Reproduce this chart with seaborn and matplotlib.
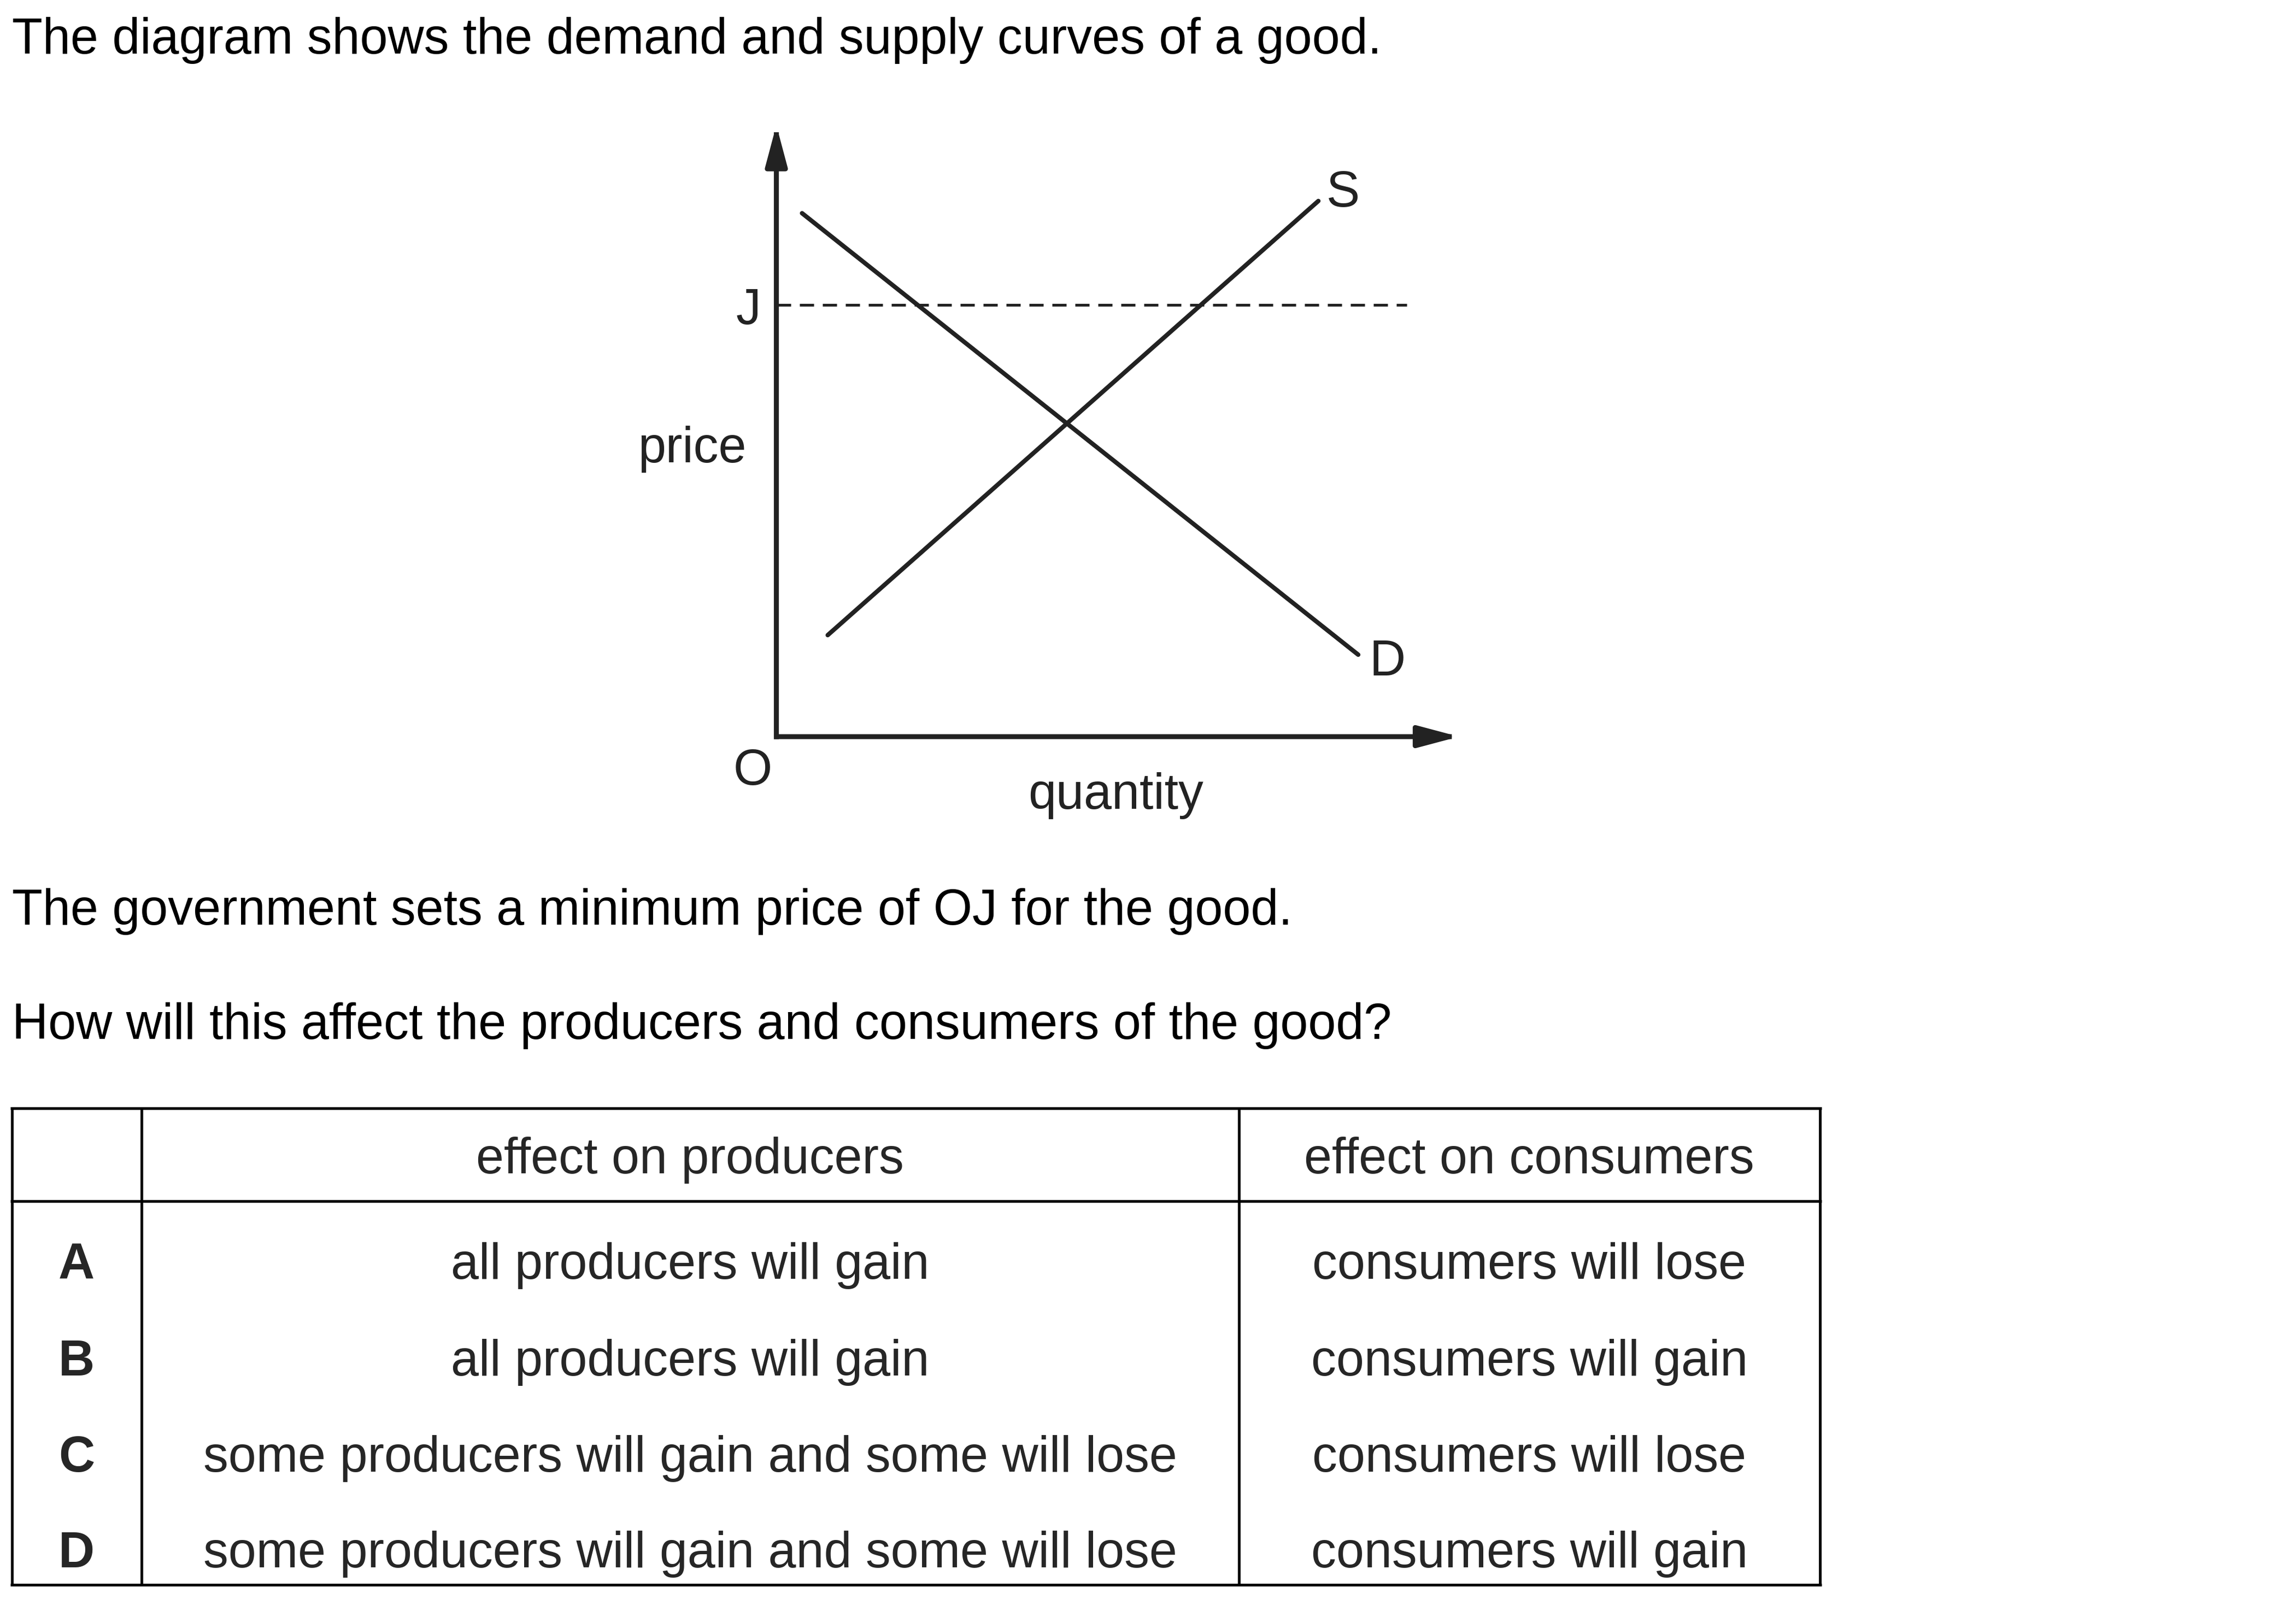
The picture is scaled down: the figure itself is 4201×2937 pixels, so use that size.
import pandas as pd
import numpy as np
import matplotlib
matplotlib.use("Agg")
import matplotlib.pyplot as plt
import seaborn as sns

# Curves in diagram units (0-100 on both axes, origin at O)
demand_q = [3.8, 86.1]
demand_p = [85.6, 13.4]
supply_q = [7.6, 80.2]
supply_p = [16.6, 87.6]
price_j = 70.6
j_line_end = 93.3

# Text
intro = "The diagram shows the demand and supply curves of a good."
line_min_price = "The government sets a minimum price of OJ for the good."
question = "How will this affect the producers and consumers of the good?"

header = ["", "effect on producers", "effect on consumers"]
options = ["A", "B", "C", "D"]
producers = [
    "all producers will gain",
    "all producers will gain",
    "some producers will gain and some will lose",
    "some producers will gain and some will lose",
]
consumers = [
    "consumers will lose",
    "consumers will gain",
    "consumers will lose",
    "consumers will gain",
]

sns.set_style("white")
plt.rcParams["font.family"] = ["Liberation Sans", "DejaVu Sans"]

W, H = 4201, 2937
fig = plt.figure(figsize=(W / 100, H / 100), dpi=100)
fig.patch.set_facecolor("white")

# full-figure axes in pixel coordinates for text and table
bg = fig.add_axes([0, 0, 1, 1])
bg.set_xlim(0, W)
bg.set_ylim(H, 0)
bg.axis("off")

FS = 66
ink = "#222222"

bg.text(22, 98, intro, fontsize=FS, ha="left", va="baseline", color="black")
bg.text(22, 1692, line_min_price, fontsize=FS, ha="left", va="baseline", color="black")
bg.text(22, 1901, question, fontsize=FS, ha="left", va="baseline", color="black")

# =========================
# table
# =========================
col_x = [21.5, 258.5, 2266.5, 3330]
row_top, row_head, row_bot = 2027.5, 2197.5, 2900
lw_tab = 3.6
for y in [row_top, row_head, row_bot]:
    bg.plot([col_x[0] - 2.5, col_x[-1] + 2.5], [y, y], color="black", lw=lw_tab,
            solid_capstyle="butt")
for x in col_x:
    bg.plot([x, x], [row_top, row_bot], color="black", lw=lw_tab,
            solid_capstyle="butt")

centers = [(col_x[i] + col_x[i + 1]) / 2 for i in range(3)]
for i, h in enumerate(header):
    bg.text(centers[i], 2147, h, fontsize=FS, ha="center", va="baseline")

row_base = [2340, 2517, 2693, 2868]
for opt, prod, cons, yb in zip(options, producers, consumers, row_base):
    bg.text(centers[0], yb, opt, fontsize=FS, ha="center", va="baseline",
            fontweight="bold")
    bg.text(centers[1], yb, prod, fontsize=FS, ha="center", va="baseline")
    bg.text(centers[2], yb, cons, fontsize=FS, ha="center", va="baseline")

# =========================
# diagram
# =========================
ox, oy = 1420.5, 1348
tip_x, tip_y = 2657, 229
ax = fig.add_axes([ox / W, 1 - oy / H, (tip_x - ox) / W, (oy - tip_y) / H])
ax.set_xlim(0, 100)
ax.set_ylim(0, 100)
ax.axis("off")
ax.patch.set_alpha(0)

curves = pd.DataFrame({
    "quantity": demand_q + supply_q,
    "price": demand_p + supply_p,
    "curve": ["D", "D", "S", "S"],
})
sns.lineplot(data=curves, x="quantity", y="price", units="curve",
             estimator=None, color=ink, lw=5.8, ax=ax, legend=False)

sns.lineplot(x=[0, j_line_end], y=[price_j, price_j], color=ink, lw=3.6,
             linestyle=(0, (5.2, 3.2)), ax=ax)

arrow = dict(arrowstyle="-|>,head_length=45,head_width=12", mutation_scale=1,
             lw=6.5, color=ink, shrinkA=0, shrinkB=0, capstyle="projecting")
ax.annotate("", xy=(0, 100), xytext=(0, 0), arrowprops=arrow, annotation_clip=False)
ax.annotate("", xy=(101, 0), xytext=(0, 0), arrowprops=arrow, annotation_clip=False)

bg.text(1369, 593, "J", fontsize=FS, ha="center", va="baseline", color=ink)
bg.text(1266, 846, "price", fontsize=FS, ha="center", va="baseline", color=ink)
bg.text(1377, 1436, "O", fontsize=FS, ha="center", va="baseline", color=ink)
bg.text(2042, 1480, "quantity", fontsize=FS, ha="center", va="baseline", color=ink)
bg.text(2457, 378, "S", fontsize=FS, ha="center", va="baseline", color=ink)
bg.text(2539, 1236, "D", fontsize=FS, ha="center", va="baseline", color=ink)

fig.savefig("out.png", dpi=100, facecolor="white")
